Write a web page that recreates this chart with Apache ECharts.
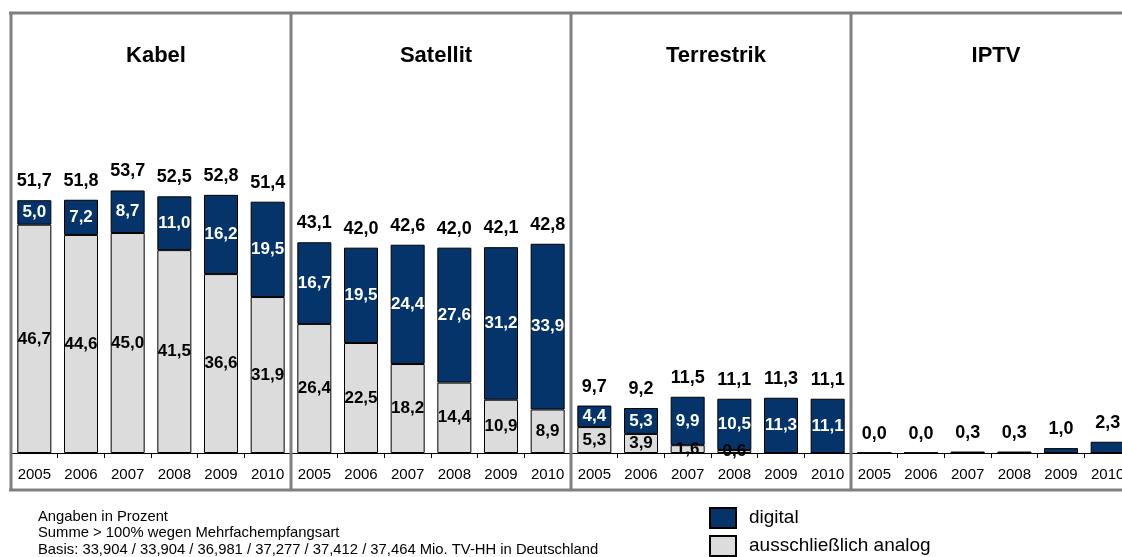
<!DOCTYPE html>
<html><head><meta charset="utf-8">
<script src="https://cdn.jsdelivr.net/npm/echarts@6/dist/echarts.min.js"></script>
<style>html,body{margin:0;padding:0;background:#fff;overflow:hidden}#c{width:1134px;height:557px}</style>
</head><body><div id="c"></div>
<script>
const years = ['2005','2006','2007','2008','2009','2010'];
const panels = ['Kabel','Satellit','Terrestrik','IPTV'];
const analogKabel = [46.7,44.6,45.0,41.5,36.6,31.9];
const digitalKabel = [5.0,7.2,8.7,11.0,16.2,19.5];
const totalKabel = [51.7,51.8,53.7,52.5,52.8,51.4];
const analogSat = [26.4,22.5,18.2,14.4,10.9,8.9];
const digitalSat = [16.7,19.5,24.4,27.6,31.2,33.9];
const totalSat = [43.1,42.0,42.6,42.0,42.1,42.8];
const analogTer = [5.3,3.9,1.6,0.6,0,0];
const digitalTer = [4.4,5.3,9.9,10.5,11.3,11.1];
const totalTer = [9.7,9.2,11.5,11.1,11.3,11.1];
const analogIptv = [0,0,0,0,0,0];
const digitalIptv = [0.0,0.0,0.3,0.3,1.0,2.3];
const totalIptv = [0.0,0.0,0.3,0.3,1.0,2.3];

const analogs = [analogKabel, analogSat, analogTer, analogIptv];
const digitals = [digitalKabel, digitalSat, digitalTer, digitalIptv];
const totals = [totalKabel, totalSat, totalTer, totalIptv];

const fmt = v => v.toFixed(1).replace('.', ',');
const font = 'Liberation Sans, Arial, sans-serif';
const NAVY = '#04346a', GREY = '#dcdcdc';
const PW = 280, X0 = 11;

const grid = [], xAxis = [], yAxis = [], series = [], title = [];
panels.forEach((p, i) => {
  grid.push({left: X0 + i*PW, width: PW, top: 13, height: 440});
  xAxis.push({type:'category', gridIndex:i, data:years,
    axisLine:{lineStyle:{color:'#000', width:1}},
    axisTick:{show:true, length:5, lineStyle:{color:'#000'}},
    axisLabel:{color:'#000', fontSize:15, fontFamily:font, margin:14}});
  yAxis.push({type:'value', gridIndex:i, min:0, max:90, show:false, splitLine:{show:false}});
  title.push({text:p, left: X0 + i*PW + PW/2, top: 40, textAlign:'center',
    textStyle:{fontSize:22, fontWeight:'bold', color:'#000', fontFamily:font}});
  series.push({name:'ausschließlich analog', type:'bar', stack:'s'+i, xAxisIndex:i, yAxisIndex:i,
    data: analogs[i], barWidth:34,
    itemStyle:{color:GREY, borderColor:'#000', borderWidth:1},
    label:{show: i<3, position:'inside', color:'#000', fontSize:17, fontWeight:'bold', fontFamily:font,
      formatter: d => d.value > 0 ? fmt(d.value) : ''}});
  series.push({name:'digital', type:'bar', stack:'s'+i, xAxisIndex:i, yAxisIndex:i,
    data: digitals[i], barWidth:34,
    itemStyle:{color:NAVY, borderColor:'#000', borderWidth:1},
    label:{show: i<3, position:'inside', color:'#fff', fontSize:17, fontWeight:'bold', fontFamily:font,
      formatter: d => fmt(d.value)}});
  series.push({name:'total'+i, type:'bar', stack:'s'+i, xAxisIndex:i, yAxisIndex:i,
    data: totals[i].map(() => 0), barWidth:34, silent:true,
    itemStyle:{color:'rgba(0,0,0,0)', borderWidth:0},
    label:{show:true, position:'top', distance:10, color:'#000', fontSize:18, fontWeight:'bold', fontFamily:font,
      formatter: d => fmt(totals[i][d.dataIndex])}});
});

const G = '#808080';
const graphic = [
  {type:'line', shape:{x1:9, y1:13, x2:1134, y2:13}, style:{stroke:G, lineWidth:3}, z:100},
  {type:'line', shape:{x1:9, y1:490, x2:1134, y2:490}, style:{stroke:G, lineWidth:3}, z:100},
];
[0,1,2,3].forEach(i => graphic.push({type:'line', shape:{x1:X0+i*PW, y1:12, x2:X0+i*PW, y2:491},
  style:{stroke:G, lineWidth:3}, z:100}));
const notes = ['Angaben in Prozent','Summe > 100% wegen Mehrfachempfangsart',
  'Basis: 33,904 / 33,904 / 36,981 / 37,277 / 37,412 / 37,464 Mio. TV-HH in Deutschland'];
notes.forEach((t, k) => graphic.push({type:'text', left:38, top:509 + k*16.5,
  style:{text:t, fontSize:14.8, fill:'#000', fontFamily:font}}));

const legendBase = {orient:'vertical', left:709, padding:0, itemWidth:26, itemHeight:20, icon:'rect',
  textStyle:{fontSize:19, color:'#000', fontFamily:font, padding:[0,0,0,8]}};
const chart = echarts.init(document.getElementById('c'), null, {renderer:'canvas'});
chart.setOption({
  animation:false,
  title, grid, xAxis, yAxis, series, graphic,
  legend:[Object.assign({data:['digital'], top:507}, legendBase),
          Object.assign({data:['ausschließlich analog'], top:535}, legendBase)]
});
</script></body></html>
